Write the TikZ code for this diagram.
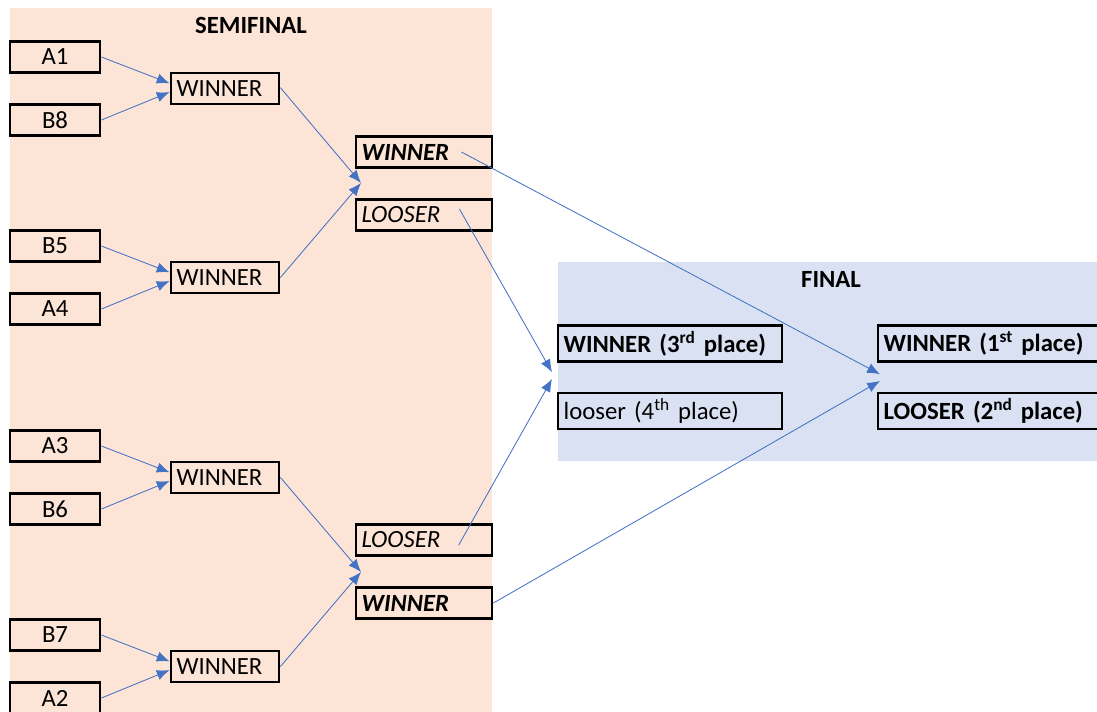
\documentclass[tikz,border=0pt]{standalone}
\usepackage{fontspec}
\setmainfont{Carlito}
\usetikzlibrary{positioning, arrows.meta}
\definecolor{semibg}{HTML}{FCE4D6}
\definecolor{finalbg}{HTML}{D9E1F2}
\definecolor{arrowblue}{HTML}{4472C4}
\tikzstyle{team}=[rectangle,minimum width=2.25cm,minimum height=0.775cm,inner sep=0pt,text centered,draw=black,line width=2pt,font=\fontsize{17.6}{20}\selectfont]
\tikzstyle{winner}=[rectangle,minimum height=0.775cm,inner ysep=0pt,inner xsep=4pt,text width=2.42cm,align=left,draw=black,line width=2pt,font=\fontsize{17.6}{20}\selectfont]
\tikzstyle{semi}=[winner,text width=3.12cm]
\tikzstyle{place}=[winner,minimum height=0.9cm,text width=5.32cm]
\tikzstyle{title}=[font=\fontsize{17.6}{20}\selectfont\bfseries]
\tikzstyle{arrow} = [draw=arrowblue,line width=0.6pt,-{Latex[length=3.2mm,width=2.6mm]}]

\begin{document}
\begin{tikzpicture}[node distance = 1.575cm]
\useasboundingbox (0,0) rectangle (27.425,-17.775);

% backgrounds
\fill[semibg] (0.25,-0.2) rectangle (12.3,-17.9);
\fill[finalbg] (13.95,-6.55) rectangle (27.5,-11.525);
\node (semititle) [title] at (6.275,-0.625) {SEMIFINAL};
\node (finaltitle) [title] at (20.775,-6.975) {FINAL};

% first round
\node (a1) [team] at (1.375,-1.425) {A1};
\node (b8) [team,below of =a1] {B8};
\node (w1) [winner] at (5.625,-2.2125) {WINNER};
\node (b5) [team] at (1.375,-6.15) {B5};
\node (a4) [team,below of =b5] {A4};
\node (w2) [winner] at (5.625,-6.9375) {WINNER};
\node (a3) [team] at (1.375,-11.15) {A3};
\node (b6) [team,below of =a3] {B6};
\node (w3) [winner] at (5.625,-11.9375) {WINNER};
\node (b7) [team] at (1.375,-15.875) {B7};
\node (a2) [team,below of =b7] {A2};
\node (w4) [winner] at (5.625,-16.6625) {WINNER};

% semifinal
\node (sfw1) [semi] at (10.6,-3.8) {\textbf{\textit{WINNER}}};
\node (sfl1) [semi,below of =sfw1] {\textit{LOOSER}};
\node (sfl2) [semi] at (10.6,-13.5) {\textit{LOOSER}};
\node (sfw2) [semi,below of =sfl2] {\textbf{\textit{WINNER}}};
\coordinate (m1) at (9.025,-4.575);
\coordinate (m2) at (9.025,-14.3);

% final
\node (third) [place] at (16.75,-8.5875) {\textbf{WINNER (3\textsuperscript{rd} place)}};
\node (fourth) [place,below of =third,yshift=-0.1125cm] {looser (4\textsuperscript{th} place)};
\node (first) [place,text width=5.27cm] at (24.725,-8.5875) {\textbf{WINNER (1\textsuperscript{st} place)}};
\node (second) [place,text width=5.27cm,below of =first,yshift=-0.1125cm] {\textbf{LOOSER (2\textsuperscript{nd} place)}};
\coordinate (m3) at (13.8,-9.425);
\coordinate (m4) at (22.0,-9.425);

\draw[arrow] (a1.east) -- ([yshift=0.13cm]w1.west);
\draw[arrow] (b8.east) -- ([yshift=-0.09cm]w1.west);
\draw[arrow] (b5.east) -- ([yshift=0.13cm]w2.west);
\draw[arrow] (a4.east) -- ([yshift=-0.09cm]w2.west);
\draw[arrow] (a3.east) -- ([yshift=0.13cm]w3.west);
\draw[arrow] (b6.east) -- ([yshift=-0.09cm]w3.west);
\draw[arrow] (b7.east) -- ([yshift=0.13cm]w4.west);
\draw[arrow] (a2.east) -- ([yshift=-0.09cm]w4.west);
\draw[arrow] ([yshift=0.02cm]w1.east) -- (m1);
\draw[arrow] (w2.east) -- (m1);
\draw[arrow] (w3.east) -- (m2);
\draw[arrow] (w4.east) -- (m2);
\draw[arrow] ([xshift=-0.8cm]sfw1.east) -- ([yshift=0.07cm]m4);
\draw[arrow] ([xshift=-0.85cm,yshift=0.15cm]sfl1.east) -- ([yshift=0.12cm]m3);
\draw[arrow] ([xshift=-0.87cm,yshift=-0.13cm]sfl2.east) -- ([yshift=-0.05cm]m3);
\draw[arrow] (sfw2.east) -- ([yshift=-0.1cm]m4);
\end{tikzpicture}
\end{document}
